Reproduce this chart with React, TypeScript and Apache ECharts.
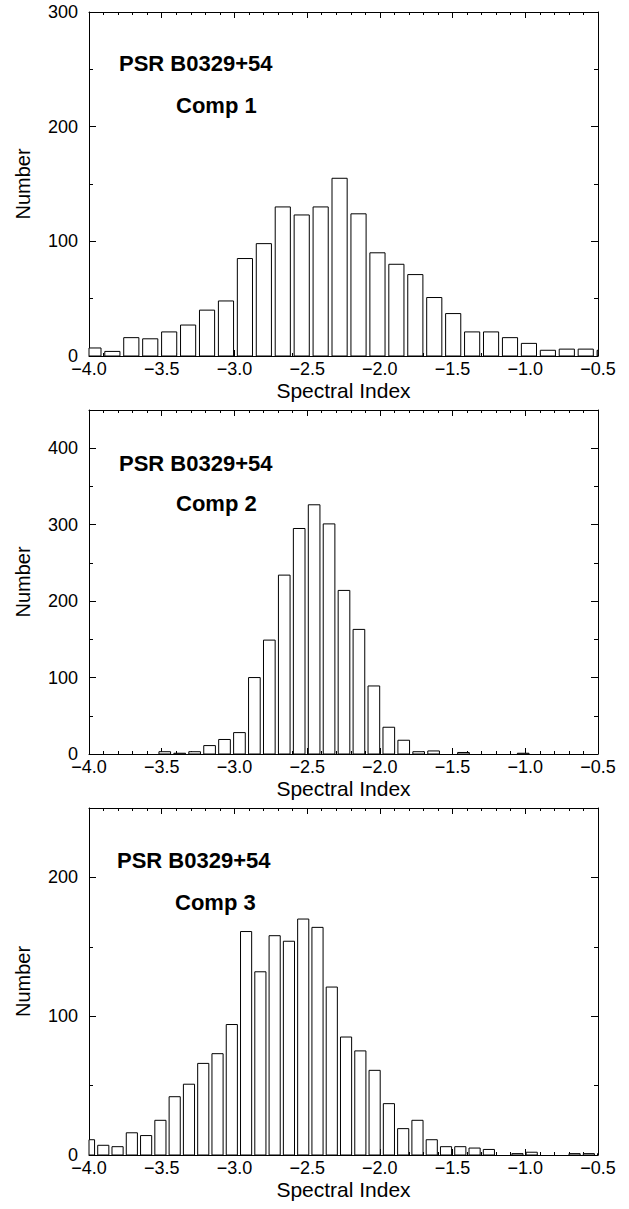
import React, { useEffect, useRef } from 'react';
import * as echarts from 'echarts';

// ---- data ----
const xMin = -4.0;
const xMax = -0.5;
const sourceName = 'PSR B0329+54';
const compNames = ['Comp 1', 'Comp 2', 'Comp 3'];
const yMaxes = [300, 450, 250];

// histogram bins (first bin centre, bin width) and counts
const comp1Start = -3.9695;
const comp1Width = 0.1302;
const comp1Counts = [7, 4, 16, 15, 21, 27, 40, 48, 85, 98, 130, 123, 130, 155, 124, 90, 80, 71, 51, 37, 21, 21, 16, 11, 5, 6, 6, 5];

const comp2Start = -3.479;
const comp2Width = 0.1027;
const comp2Counts = [3, 1, 3, 11, 19, 28, 100, 149, 234, 295, 326, 301, 214, 163, 89, 35, 18, 3, 4, 0, 2, 0, 0, 0, 1];

const comp3Start = -4.0;
const comp3Width = 0.0982;
const comp3Counts = [11, 7, 6, 16, 14, 25, 42, 51, 66, 73, 94, 161, 132, 158, 154, 170, 164, 121, 85, 75, 61, 37, 19, 25, 11, 6, 6, 5, 4, 0, 1, 2, 0, 0, 1, 1, 1];

const FONT = "'Liberation Sans', Arial, Helvetica, sans-serif";

// ---- layout (px) ----
const CW = 629;
const CH = 1209;
const gridLeft = 89;
const gridRight = 31;
const panels = [
  { top: 12, height: 344, barFrac: 0.8, psr: [119, 63], comp: [176, 105] },
  { top: 410, height: 344, barFrac: 0.78, psr: [119, 463], comp: [176, 503] },
  { top: 808, height: 347, barFrac: 0.78, psr: [117, 860], comp: [175, 902] },
];

const fmtX = (v: number) => (v < 0 ? '\u2212' : '') + Math.abs(v).toFixed(1);

export default function App() {
  const ref = useRef<HTMLDivElement>(null);
  useEffect(() => {
    if (!ref.current) return;
    const chart = echarts.init(ref.current, undefined, { renderer: 'svg' });
    const hist = [
      { start: comp1Start, width: comp1Width, counts: comp1Counts },
      { start: comp2Start, width: comp2Width, counts: comp2Counts },
      { start: comp3Start, width: comp3Width, counts: comp3Counts },
    ];
    const grid: any[] = [];
    const xAxis: any[] = [];
    const yAxis: any[] = [];
    const series: any[] = [];
    const graphic: any[] = [];
    const lineStyle = { color: '#000', width: 1 };
    panels.forEach((p, i) => {
      grid.push({ left: gridLeft, right: gridRight, top: p.top, height: p.height, containLabel: false });
      const xBase = {
        type: 'value', gridIndex: i, min: xMin, max: xMax, interval: 0.5,
        axisLine: { show: true, onZero: false, lineStyle },
        axisTick: { show: true, inside: true, length: 6, lineStyle },
        minorTick: { show: true, splitNumber: 5, length: 3, lineStyle },
        splitLine: { show: false },
      };
      xAxis.push({
        ...xBase, position: 'bottom',
        axisLabel: { show: true, margin: 6, fontSize: 18, lineHeight: 14, color: '#000', fontFamily: FONT, formatter: fmtX, showMinLabel: true, showMaxLabel: true },
      });
      xAxis.push({ ...xBase, position: 'top', axisLabel: { show: false } });
      const yBase = { type: 'value', gridIndex: i, min: 0, max: yMaxes[i], splitLine: { show: false } };
      const yStart = yAxis.length;
      yAxis.push({
        ...yBase, position: 'left', interval: 100,
        axisLine: { show: true, onZero: false, lineStyle },
        axisTick: { show: true, inside: true, length: 7, lineStyle },
        axisLabel: { show: true, margin: 11, fontSize: 18, lineHeight: 13, color: '#000', fontFamily: FONT, formatter: (v: number) => (v % 100 === 0 ? String(v) : '') },
      });
      yAxis.push({
        ...yBase, position: 'left', interval: 50,
        axisLine: { show: false },
        axisTick: { show: true, inside: true, length: 4, lineStyle },
        axisLabel: { show: false },
      });
      yAxis.push({
        ...yBase, position: 'right', interval: 100,
        axisLine: { show: true, onZero: false, lineStyle },
        axisTick: { show: true, inside: true, length: 7, lineStyle },
        axisLabel: { show: false },
      });
      yAxis.push({
        ...yBase, position: 'right', interval: 50,
        axisLine: { show: false },
        axisTick: { show: true, inside: true, length: 4, lineStyle },
        axisLabel: { show: false },
      });
      const h = hist[i];
      const data = h.counts.map((c, k) => [h.start + k * h.width, c]);
      const halfW = (h.width * p.barFrac) / 2;
      series.push({
        type: 'custom', xAxisIndex: i * 2, yAxisIndex: yStart, data,
        renderItem: (params: any, api: any) => {
          const xc = api.value(0);
          const yv = api.value(1);
          if (!yv) return null;
          const p0 = api.coord([xc - halfW, yv]);
          const p1 = api.coord([xc + halfW, 0]);
          const cs = params.coordSys;
          const shape = echarts.graphic.clipRectByRect(
            { x: p0[0], y: p0[1], width: p1[0] - p0[0], height: p1[1] - p0[1] },
            { x: cs.x, y: cs.y, width: cs.width, height: cs.height }
          );
          if (!shape) return null;
          return { type: 'rect', shape, style: { fill: '#fff', stroke: '#000', lineWidth: 1 } };
        },
        emphasis: { disabled: true },
      });
      const bottom = p.top + p.height;
      graphic.push({
        type: 'text', x: p.psr[0], y: p.psr[1],
        style: { text: sourceName, font: `bold 22px ${FONT}`, fill: '#000', textAlign: 'left', textVerticalAlign: 'middle', align: 'left', verticalAlign: 'middle' },
      });
      graphic.push({
        type: 'text', x: p.comp[0], y: p.comp[1],
        style: { text: compNames[i], font: `bold 22px ${FONT}`, fill: '#000', textAlign: 'left', textVerticalAlign: 'middle', align: 'left', verticalAlign: 'middle' },
      });
      graphic.push({
        type: 'text', x: (gridLeft + CW - gridRight) / 2, y: bottom + 34,
        style: { text: 'Spectral Index', font: `21px ${FONT}`, fill: '#000', textAlign: 'center', textVerticalAlign: 'middle', align: 'center', verticalAlign: 'middle' },
      });
      graphic.push({
        type: 'text', x: 23, y: p.top + p.height / 2, rotation: Math.PI / 2,
        style: { text: 'Number', font: `20px ${FONT}`, fill: '#000', textAlign: 'center', textVerticalAlign: 'middle', align: 'center', verticalAlign: 'middle' },
      });
    });
    chart.setOption({
      animation: false,
      backgroundColor: '#fff',
      grid, xAxis, yAxis, series, graphic,
    });
    return () => chart.dispose();
  }, []);
  return <div ref={ref} style={{ position: 'absolute', left: 0, top: 0, width: CW, height: CH }} />;
}
